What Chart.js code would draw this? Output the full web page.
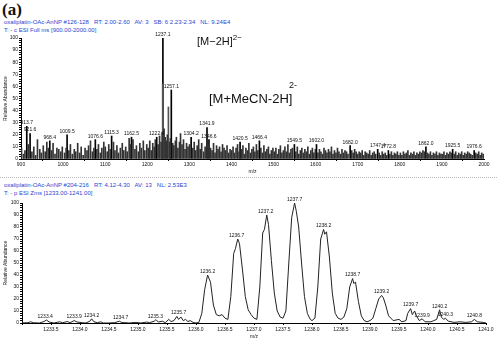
<!DOCTYPE html>
<html lang="en">
<head>
  <meta charset="UTF-8">
  <title>Oxaliplatin ESI mass spectra</title>
  <script src="https://cdn.jsdelivr.net/npm/chart.js"></script>
  <style>
    body { margin: 0; width: 497px; height: 343px; background: #fff; position: relative; overflow: hidden;
           font-family: "Liberation Sans", Arial, sans-serif; }
    .panel { position: absolute; left: 0; width: 497px; }
    .hdr { position: absolute; left: 4px; font-size: 6px; color: #2846d0; white-space: pre; line-height: 7.5px; }
    .ann { position: absolute; color: #111; white-space: pre; }
  </style>
</head>
<body>

<div class="ann" style="left:2px; top:0px; font: bold 17px 'Liberation Serif', serif;">(a)</div>

<!-- Top panel: full scan -->
<div class="hdr" style="top:19px;">oxaliplatin-OAc-AnNP #126-128   RT: 2.00-2.60   AV: 3   SB: 6 2.23-2.34   NL: 9.24E4
T: - c ESI Full ms [900.00-2000.00]</div>
<div class="panel" style="top:0; height:176px;"><canvas id="fullChart"></canvas></div>
<div class="ann" style="left:197px; top:33px; font-size:11px;">[M&minus;2H]<sup style="vertical-align:5px;font-size:8px;">2&minus;</sup></div>
<div class="ann" style="left:209px; top:91px; font-size:13px;">[M+MeCN-2H]</div>
<div class="ann" style="left:289px; top:80px; font-size:9px;">2-</div>

<div style="position:absolute; left:0; top:177px; width:497px; height:0; border-top:1px dotted #bbb;"></div>

<!-- Bottom panel: zoom scan -->
<div class="hdr" style="top:182px;">oxaliplatin-OAc-AnNP #204-216   RT: 4.12-4.30   AV: 13   NL: 2.53E3
T: - p ESI Zms [1233.00-1241.00]</div>
<div class="panel" style="top:176px; height:167px;"><canvas id="zoomChart"></canvas></div>

<script>
// ---- full scan, labelled peaks ----
const peakMz = [913.7, 921.6, 968.4, 1009.5, 1076.6, 1115.3, 1162.5, 1222.4, 1237.1, 1257.1, 1304.2, 1341.9,
                1346.6, 1420.5, 1466.4, 1549.5, 1602.0, 1682.0, 1747.4, 1772.8, 1862.0, 1925.5, 1976.6];
const peakAb = [27, 21, 15, 20, 16, 19, 18, 18, 100, 57, 18, 26,
                16, 14, 15, 12, 12, 11, 8, 7, 10, 8, 7];

// unlabelled strong lines near the base peak
const sideMz = [1236.6, 1250.2];
const sideAb = [62, 43];

// ---- full scan, background lines ----
const noiseMz = [
  901.2, 905.8, 909.4, 917.3, 925.9, 930.4, 934.7, 939.1, 944.6, 948.2, 952.9, 957.5, 961.3, 965.0, 972.6,
  976.2, 980.8, 985.3, 989.7, 994.4, 998.1,
  1003.6, 1007.2, 1013.8, 1017.4, 1021.9, 1026.5, 1030.1, 1034.7, 1039.3, 1043.0, 1047.6, 1052.2, 1056.8,
  1060.5, 1065.1, 1069.7, 1073.3, 1080.4, 1084.0, 1088.6, 1092.1, 1096.7,
  1100.3, 1104.9, 1108.5, 1112.1, 1119.7, 1123.2, 1127.8, 1131.4, 1136.0, 1140.6, 1144.2, 1148.8, 1152.3,
  1156.9, 1160.5, 1166.1, 1170.7, 1174.3, 1178.9, 1182.4, 1186.0, 1190.6, 1194.2, 1198.8,
  1202.3, 1205.9, 1209.4, 1213.0, 1216.6, 1219.1, 1225.7, 1229.2, 1232.8, 1235.4, 1239.9, 1242.5, 1245.1,
  1247.7, 1253.3, 1255.0, 1260.4, 1263.1, 1266.7, 1269.2, 1272.8, 1276.5, 1279.0, 1282.6, 1286.1, 1289.7,
  1293.3, 1296.8,
  1300.4, 1307.9, 1311.5, 1315.0, 1318.6, 1322.2, 1325.7, 1329.3, 1333.9, 1337.4, 1344.0, 1350.3, 1353.9,
  1357.4, 1361.0, 1364.6, 1368.1, 1371.7, 1375.3, 1378.8, 1382.4, 1386.0, 1389.5, 1393.1, 1396.7,
  1400.2, 1403.8, 1407.3, 1410.9, 1414.5, 1418.0, 1423.6, 1427.2, 1430.7, 1434.3, 1437.9, 1441.4, 1445.0,
  1448.6, 1452.1, 1455.7, 1459.3, 1462.8, 1469.9, 1473.5, 1477.1, 1480.6, 1484.2, 1487.8, 1491.3, 1494.9, 1498.5,
  1502.0, 1505.6, 1509.2, 1512.7, 1516.3, 1519.9, 1523.4, 1527.0, 1530.6, 1534.1, 1537.7, 1541.3, 1544.8,
  1553.0, 1556.5, 1560.1, 1563.7, 1567.2, 1570.8, 1574.4, 1577.9, 1581.5, 1585.1, 1588.6, 1592.2, 1595.8, 1599.3,
  1605.5, 1609.1, 1612.6, 1616.2, 1619.8, 1623.3, 1626.9, 1630.5, 1634.0, 1637.6, 1641.2, 1644.7, 1648.3,
  1651.9, 1655.4, 1659.0, 1662.6, 1666.1, 1669.7, 1673.3, 1676.8, 1685.6, 1689.2, 1692.7, 1696.3,
  1699.9, 1703.4, 1707.0, 1710.6, 1714.1, 1717.7, 1721.3, 1724.8, 1728.4, 1732.0, 1735.5, 1739.1, 1742.7,
  1751.0, 1754.6, 1758.2, 1761.7, 1765.3, 1768.9, 1776.4, 1780.0, 1783.5, 1787.1, 1790.7, 1794.2, 1797.8,
  1801.4, 1804.9, 1808.5, 1812.1, 1815.6, 1819.2, 1822.8, 1826.3, 1829.9, 1833.5, 1837.0, 1840.6, 1844.2,
  1847.7, 1851.3, 1854.9, 1858.4, 1865.6, 1869.1, 1872.7, 1876.3, 1879.8, 1883.4, 1887.0, 1890.5, 1894.1, 1897.7,
  1901.2, 1904.8, 1908.4, 1911.9, 1915.5, 1919.1, 1922.6, 1929.1, 1932.7, 1936.3, 1939.8, 1943.4, 1947.0,
  1950.5, 1954.1, 1957.7, 1961.2, 1964.8, 1968.4, 1971.9, 1980.2, 1983.8, 1987.4, 1990.9, 1994.5, 1998.1
];
const noiseAb = [
  9, 4, 7, 12, 6, 10, 3, 16, 8, 5, 11, 6, 14, 9, 7,
  13, 4, 9, 8, 6, 10,
  5, 9, 7, 12, 4, 8, 6, 13, 5, 10, 3, 9, 7,
  11, 15, 6, 9, 8, 12, 5, 9, 14,
  10, 6, 12, 8, 14, 7, 11, 5, 9, 13, 7, 10, 6,
  17, 12, 16, 8, 11, 6, 13, 9, 15, 7, 12,
  9, 15, 7, 13, 10, 16, 12, 19, 14, 22, 25, 18, 15,
  20, 14, 17, 13, 11, 15, 18, 9, 14, 21, 12, 16, 8,
  13, 10,
  12, 9, 14, 7, 11, 16, 8, 13, 6, 10, 12, 9, 7,
  13, 5, 11, 8, 10, 6, 12, 9, 7, 11, 5, 8,
  7, 10, 5, 9, 12, 6, 8, 11, 4, 9, 7, 13, 5,
  8, 10, 6, 12, 7, 9, 5, 11, 6, 8, 10, 4, 7, 9,
  6, 9, 4, 8, 11, 5, 7, 10, 6, 12, 5, 8, 9,
  6, 10, 4, 7, 9, 5, 8, 6, 10, 4, 7, 9, 5, 8,
  5, 8, 6, 4, 9, 7, 5, 8, 6, 10, 4, 7, 5,
  9, 6, 4, 8, 5, 7, 6, 4, 7, 5, 8, 6,
  4, 6, 5, 7, 3, 6, 5, 4, 7, 3, 5, 6, 4,
  5, 3, 6, 4, 5, 3, 4, 6, 3, 5, 4, 6, 3,
  5, 3, 6, 4, 5, 7, 3, 5, 4, 6, 3, 5, 4,
  6, 5, 7, 6, 5, 4, 6, 3, 5, 4, 6, 3, 5, 4,
  4, 6, 3, 5, 4, 6, 5, 4, 6, 3, 5, 4, 6,
  3, 5, 4, 6, 5, 4, 3, 5, 4, 6, 3, 5, 4
];

// ---- zoom scan profile ----
const zoomMz = [
  1233.00, 1233.10, 1233.15, 1233.20, 1233.30, 1233.38, 1233.42, 1233.47, 1233.55, 1233.65, 1233.70, 1233.78,
  1233.83, 1233.90, 1233.95, 1234.05, 1234.10, 1234.17, 1234.20, 1234.24, 1234.30, 1234.36, 1234.40, 1234.50,
  1234.60, 1234.68, 1234.72, 1234.85, 1234.95, 1235.05, 1235.15, 1235.20, 1235.28, 1235.31, 1235.35, 1235.42,
  1235.47, 1235.53, 1235.57, 1235.62, 1235.67, 1235.70, 1235.74, 1235.78, 1235.82, 1235.86, 1235.90, 1235.95,
  1236.00, 1236.05, 1236.10, 1236.15, 1236.20, 1236.25, 1236.30, 1236.35, 1236.40, 1236.45, 1236.50, 1236.55,
  1236.60, 1236.65, 1236.68, 1236.72, 1236.75, 1236.80, 1236.85, 1236.90, 1236.95, 1237.00, 1237.05, 1237.10,
  1237.15, 1237.18, 1237.22, 1237.25, 1237.30, 1237.35, 1237.40, 1237.45, 1237.50, 1237.55, 1237.60, 1237.65,
  1237.70, 1237.73, 1237.77, 1237.82, 1237.87, 1237.92, 1237.97, 1238.00, 1238.05, 1238.10, 1238.15, 1238.20,
  1238.22, 1238.25, 1238.30, 1238.35, 1238.40, 1238.45, 1238.50, 1238.55, 1238.60, 1238.65, 1238.70, 1238.72,
  1238.75, 1238.80, 1238.85, 1238.90, 1238.95, 1239.00, 1239.05, 1239.10, 1239.15, 1239.20, 1239.23, 1239.27,
  1239.32, 1239.40, 1239.50, 1239.55, 1239.62, 1239.65, 1239.70, 1239.73, 1239.77, 1239.80, 1239.85, 1239.90,
  1239.95, 1240.05, 1240.10, 1240.15, 1240.20, 1240.23, 1240.27, 1240.30, 1240.35, 1240.45, 1240.55, 1240.65,
  1240.75, 1240.80, 1240.85, 1240.95, 1241.00
];
const zoomAb = [
  0, 0.3, 1, 0.2, 0, 1.2, 2.5, 0.8, 0, 1, 0.2, 1.2,
  0.3, 2, 0.8, 0.2, 0, 1.5, 3.5, 1, 0.3, 1, 0, 0,
  0.3, 1.5, 0.4, 0, 0.5, 0, 0.8, 0.3, 1.5, 2.8, 0.8, 1.5,
  0.3, 3, 1.2, 2, 5.5, 3, 5, 2, 3, 1.2, 2, 0.5,
  0, 0.5, 8, 28, 40, 34, 15, 7, 6, 7, 4, 3,
  22, 58, 62, 70, 66, 45, 22, 11, 7, 4, 3, 30,
  75, 78, 90, 82, 52, 25, 10, 5, 4, 10, 50, 88,
  100, 93, 80, 50, 22, 8, 3, 2, 4, 30, 70, 78,
  74, 76, 55, 25, 8, 4, 3, 5, 12, 30, 37, 33,
  34, 18, 6, 2, 1, 2, 4, 12, 20, 23, 21, 15,
  6, 2, 3, 1, 2, 8, 12, 7, 10, 6, 2, 3.5,
  1, 1, 2, 3, 11, 5, 3, 4, 1.5, 0.5, 1, 0.5,
  1, 3, 1, 0.5, 0
];
const zoomLabelMz = [1233.4, 1233.9, 1234.2, 1234.7, 1235.3, 1235.7, 1236.2, 1236.7, 1237.2, 1237.7,
                     1238.2, 1238.7, 1239.2, 1239.7, 1239.9, 1240.2, 1240.3, 1240.8];
const zoomLabelAb = [2.5, 2, 3.5, 1.5, 2.8, 6, 40, 70, 90, 100,
                     78, 37, 23, 12, 3.5, 11, 4, 3];

const FONT = '"Liberation Sans", Arial, sans-serif';

// draws m/z value above each labelled peak
function peakLabelPlugin(mzList, abList) {
  return {
    id: 'peakLabels',
    afterDatasetsDraw(chart) {
      const { ctx, scales: { x, y } } = chart;
      ctx.save();
      ctx.font = '5px ' + FONT;
      ctx.fillStyle = '#111';
      ctx.textAlign = 'center';
      ctx.textBaseline = 'bottom';
      mzList.forEach((m, i) => {
        ctx.fillText(m.toFixed(1), x.getPixelForValue(m), y.getPixelForValue(abList[i]) - 1);
      });
      ctx.restore();
    }
  };
}

function yAxis(width) {
  return {
    min: 0, max: 100,
    afterFit: s => { s.width = width; },
    border: { color: '#000', width: 1 },
    grid: { drawOnChartArea: false, tickLength: 2, tickColor: '#000' },
    ticks: {
      stepSize: 2, autoSkip: false, padding: 1,
      font: { size: 5, family: FONT }, color: '#111',
      callback: v => (v % 10 === 0 ? String(v) : '')
    },
    title: { display: true, text: 'Relative Abundance', font: { size: 5, family: FONT }, color: '#111',
             padding: { top: 3, bottom: 0 } }
  };
}

function toPoints(xs, ys) {
  return xs.map((m, i) => ({ x: m, y: ys[i] }));
}

// full scan (stick spectrum)
new Chart(document.getElementById('fullChart'), {
  type: 'bar',
  data: {
    datasets: [
      { data: toPoints(noiseMz, noiseAb), backgroundColor: '#333', barThickness: 1 },
      { data: toPoints(sideMz, sideAb), backgroundColor: '#555', barThickness: 1 },
      { data: toPoints(peakMz, peakAb), backgroundColor: '#000', barThickness: 1 }
    ]
  },
  options: {
    responsive: true, maintainAspectRatio: false, animation: false,
    grouped: false,
    layout: { padding: { top: 38, right: 13, left: 0, bottom: 0 } },
    plugins: { legend: { display: false }, tooltip: { enabled: false } },
    scales: {
      x: {
        type: 'linear', min: 900, max: 2000, offset: false,
        afterFit: s => { s.height = 17; },
        border: { color: '#000', width: 1 },
        grid: { drawOnChartArea: false, tickLength: 2, tickColor: '#000' },
        ticks: {
          stepSize: 100, autoSkip: false, maxRotation: 0, padding: 1,
          font: { size: 5, family: FONT }, color: '#111',
          callback: v => String(v)
        },
        title: { display: true, text: 'm/z', font: { size: 5, family: FONT }, color: '#111', padding: { top: 0, bottom: 1 } }
      },
      y: yAxis(21)
    }
  },
  plugins: [peakLabelPlugin(peakMz, peakAb)]
});

// zoom scan (profile)
new Chart(document.getElementById('zoomChart'), {
  type: 'line',
  data: {
    datasets: [{
      data: toPoints(zoomMz, zoomAb),
      borderColor: '#222', borderWidth: 1, pointRadius: 0, tension: 0, fill: false
    }]
  },
  options: {
    responsive: true, maintainAspectRatio: false, animation: false,
    layout: { padding: { top: 27, right: 11, left: 0, bottom: 0 } },
    plugins: { legend: { display: false }, tooltip: { enabled: false } },
    scales: {
      x: {
        type: 'linear', min: 1233, max: 1241,
        afterFit: s => { s.height = 20; },
        border: { color: '#000', width: 1 },
        grid: { drawOnChartArea: false, tickLength: 2, tickColor: '#000' },
        ticks: {
          stepSize: 0.5, autoSkip: false, maxRotation: 0, padding: 2,
          font: { size: 5, family: FONT }, color: '#111',
          callback: v => (v > 1233.01 ? v.toFixed(1) : '')
        },
        title: { display: true, text: 'm/z', font: { size: 5, family: FONT }, color: '#111', padding: { top: 0, bottom: 3 } }
      },
      y: yAxis(22)
    }
  },
  plugins: [peakLabelPlugin(zoomLabelMz, zoomLabelAb)]
});
</script>

</body>
</html>
